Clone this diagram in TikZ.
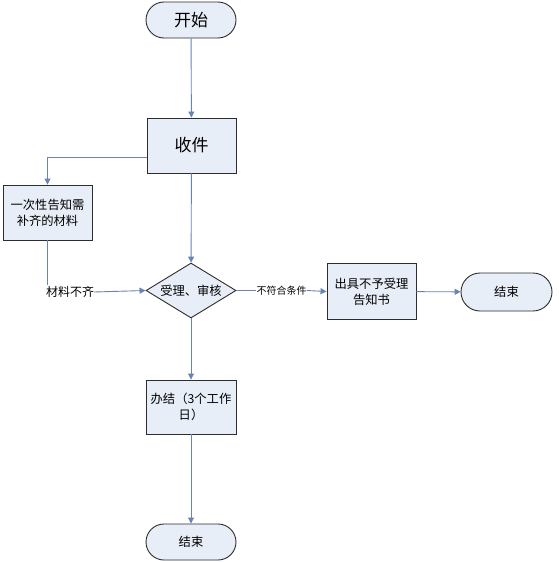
\documentclass[tikz,border=0pt]{standalone}
\usepackage{fontspec}
\setmainfont{Noto Sans CJK SC}
\usetikzlibrary{shapes.geometric,shapes.misc,arrows.meta}
\definecolor{lnc}{RGB}{104,132,180}
\definecolor{boxfill}{RGB}{232,238,247}
\definecolor{bord}{RGB}{45,45,45}
\tikzset{
  base/.style={draw=bord,line width=0.9pt,fill=boxfill,inner sep=0pt,align=center},
  term/.style={base,rounded rectangle,minimum width=90pt,minimum height=36pt},
  procbox/.style={base,rectangle,minimum width=89pt,minimum height=55pt},
  decide/.style={base,diamond,minimum width=90pt,minimum height=55pt,aspect=1.64},
  conn/.style={draw=lnc,line width=0.9pt},
  arr/.style={conn,-{Triangle[width=6pt,length=6pt]}},
  lab/.style={inner sep=0pt,font=\fontsize{12}{14}\selectfont},
  big/.style={font=\fontsize{17}{20}\selectfont},
  mid/.style={font=\fontsize{12.3}{16}\selectfont},
}
\begin{document}
\begin{tikzpicture}[x=1pt,y=-1pt]
\useasboundingbox[fill=white] (0,0) rectangle (558,562);
\node[term,big] (start) at (191,20) {开始};
\node[procbox,big] (recv) at (191.5,145.5) {收件};
\node[procbox,mid] (notice) at (47.5,212.5) {一次性告知需\\补齐的材料};
\node[decide,mid] (review) at (191,290.5) {受理、审核};
\node[procbox,mid,minimum height=56pt] (reject) at (371.5,291.5) {出具不予受理\\告知书};
\node[term,mid,minimum width=91pt,minimum height=38pt] (end1) at (506.5,292) {结束};
\node[procbox,mid,minimum width=90pt,minimum height=54pt] (done) at (191,407) {办结（3个工作\\日）};
\node[term,mid] (end2) at (191,542) {结束};
\node[lab] (lab1) at (70,292) {材料不齐};
\node[lab,font=\fontsize{10}{12}\selectfont] (lab2) at (281.5,290.5) {不符合条件};
\draw[arr] (start) -- (recv);
\draw[arr] ([yshift=-11.5pt]recv.west) -| (notice.north);
\draw[conn] (notice.south) -- ([yshift=1pt]notice.south |- lab1.north);
\draw[arr] (lab1.east) -- (review.west);
\draw[arr] (recv) -- (review);
\draw[conn] (review.east) -- (lab2.west);
\draw[arr] (lab2.east) -- (reject.west);
\draw[arr] (reject) -- (end1);
\draw[arr] (review) -- (done);
\draw[arr] (done) -- (end2);
\end{tikzpicture}
\end{document}
